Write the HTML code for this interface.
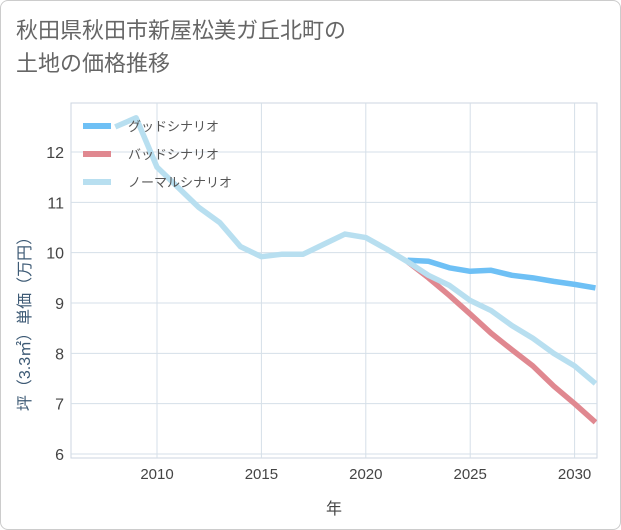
<!DOCTYPE html>
<html><head><meta charset="utf-8"><style>
html,body{margin:0;padding:0;background:#fff;}
body{width:621px;height:530px;overflow:hidden;font-family:"Liberation Sans","Noto Sans CJK JP",sans-serif;}
#frame{position:absolute;left:0;top:0;width:619px;height:528px;border:1px solid #ccc;border-radius:8px;}
#title{position:absolute;left:16px;top:14px;font-size:22px;line-height:33px;color:#666;}
</style></head><body>
<div id="frame"></div>
<div id="title">秋田県秋田市新屋松美ガ丘北町の<br>土地の価格推移</div>
<svg id="chart" width="621" height="530" style="position:absolute;left:0;top:0"></svg>
<script>
const years=[2008,2009,2010,2011,2012,2013,2014,2015,2016,2017,2018,2019,2020,2021,2022,2023,2024,2025,2026,2027,2028,2029,2030,2031];
const normal=[12.5,12.68,11.7,11.3,10.9,10.6,10.12,9.92,9.97,9.97,10.17,10.37,10.3,10.07,9.82,9.55,9.35,9.05,8.85,8.55,8.3,8.0,7.75,7.4];
const goodYears=[2022,2023,2024,2025,2026,2027,2028,2029,2030,2031];
const good=[9.85,9.83,9.7,9.63,9.65,9.55,9.5,9.43,9.37,9.3];
const bad=[9.82,9.5,9.15,8.78,8.4,8.07,7.75,7.35,7.0,6.63];
const xTicks=[2010,2015,2020,2025,2030];
const yTicks=[6,7,8,9,10,11,12];
const NS="http://www.w3.org/2000/svg";
const svg=document.getElementById('chart');
const L=71,R=597,T=103,B=458;
const x=v=>157+(v-2010)*20.88;
const y=v=>454-(v-6)*50.33;
function mk(t,a){const e=document.createElementNS(NS,t);for(const k in a)e.setAttribute(k,a[k]);svg.appendChild(e);return e;}
const bg=mk('rect',{x:L,y:T,width:R-L,height:B-T,fill:'#fff',stroke:'#ccd6e0'});


xTicks.forEach(t=>{
 const g=mk('line',{x1:x(t),x2:x(t),y1:T,y2:B,stroke:'#d5dfe8','stroke-width':1});
 
 
 const tx=mk('text',{x:x(t),y:479,'text-anchor':'middle','font-size':15,fill:'#444'});
 tx.textContent=t;
 
 
});
yTicks.forEach(t=>{
 const g=mk('line',{x1:L,x2:R,y1:y(t),y2:y(t),stroke:'#d5dfe8','stroke-width':1});
 
 
 const tx=mk('text',{x:64,y:y(t)+6,'text-anchor':'end','font-size':16,fill:'#444'});
 tx.textContent=t;
 
 
});
const clip=mk('clipPath',{id:'cp'});
const cr=document.createElementNS(NS,'rect');cr.setAttribute('x',L);cr.setAttribute('y',T);cr.setAttribute('width',R-L);cr.setAttribute('height',B-T);clip.appendChild(cr);
function line(xs,vs,c,name){
 const p=mk('polyline',{points:xs.map((v,i)=>x(v)+','+y(vs[i])).join(' '),fill:'none',stroke:c,'stroke-width':5.5,'stroke-linejoin':'round','clip-path':'url(#cp)'});
 
 
}
line(goodYears,good,'#6ec0f5','good-scenario-line');
line(goodYears,bad,'#e08890','bad-scenario-line');
line(years,normal,'#b8dff0','normal-scenario-line');
const leg=[['グッドシナリオ','#6ec0f5'],['バッドシナリオ','#e08890'],['ノーマルシナリオ','#b8dff0']];
leg.forEach((l,i)=>{
 const yy=126+i*28;
 const s=mk('line',{x1:83,x2:111,y1:yy,y2:yy,stroke:l[1],'stroke-width':6});
 
 
 const t=mk('text',{x:128,y:yy+5,'font-size':13,fill:'#555'});
 t.textContent=l[0];
 
 
});
const xt=mk('text',{x:334,y:514,'text-anchor':'middle','font-size':16,fill:'#444'});
xt.textContent='年';


const yt=mk('text',{x:0,y:0,'text-anchor':'middle','font-size':16,fill:'#3d5a75',transform:'translate(30,320) rotate(-90)'});
yt.textContent='坪（3.3㎡）単価（万円）';


</script>
</body></html>
